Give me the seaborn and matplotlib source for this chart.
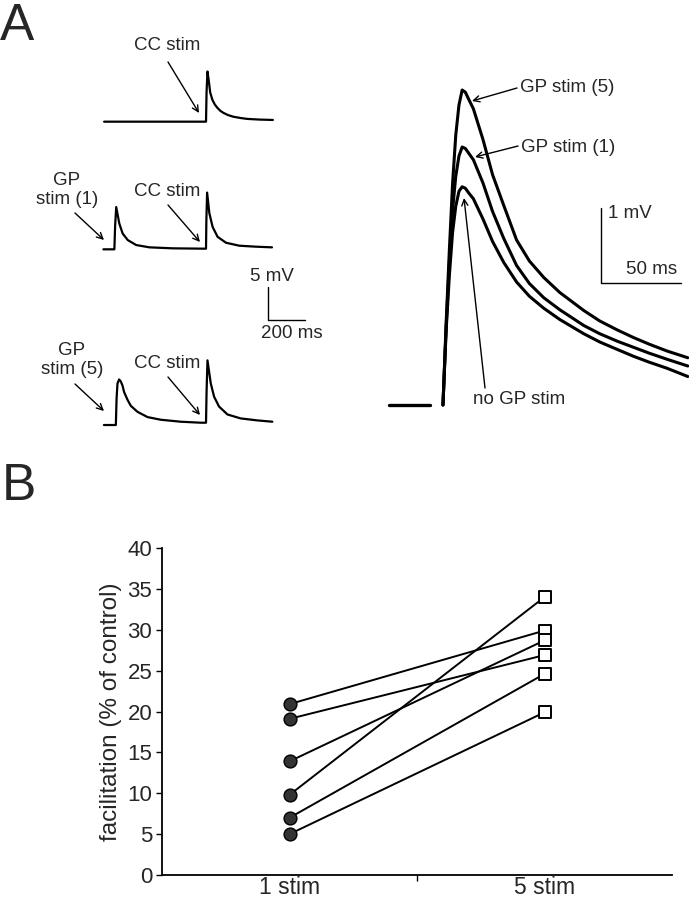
import numpy as np
import pandas as pd
import seaborn as sns
import matplotlib.pyplot as plt
from matplotlib.patches import FancyArrowPatch

# ---- panel A, left: single sweeps (ms relative to CC stim, mV above baseline)
cc_only_t = [-556, 0, 3, 8, 15, 23, 35, 48, 62, 78, 94, 120, 149, 190, 225, 290, 365]
cc_only_v = [0, 0, 4.5, 7.6, 6.2, 4.4, 3.3, 2.6, 2.1, 1.65, 1.35, 1.0, 0.75, 0.55, 0.42, 0.32, 0.26]

gp1_sweep_t = [-560, -500, -496, -490, -473, -455, -427, -381, -309, -182, -19, 0, 2, 6, 18, 36, 63,
               109, 181, 272, 360]
gp1_sweep_v = [0, 0, 3.5, 6.4, 3.9, 2.4, 1.4, 0.65, 0.3, 0.15, 0.1, 0.1, 4.5, 8.6, 5.5, 3.4, 1.9,
               1.0, 0.55, 0.4, 0.3]

gp5_sweep_t = [-557, -492, -488, -483, -474, -465, -456, -447, -428, -410, -374, -319, -247, -138, -29,
               0, 3, 8, 26, 44, 71, 117, 189, 280, 362]
gp5_sweep_v = [0, 0, 4.0, 6.3, 6.9, 6.6, 6.0, 5.0, 3.8, 2.9, 2.0, 1.2, 0.8, 0.5, 0.35,
               0.35, 5.0, 9.8, 6.3, 4.3, 2.8, 1.6, 1.0, 0.7, 0.5]

# ---- panel A, right: averaged CC EPSPs (ms from onset, mV)
epsp_t = [0, 2, 4, 6, 8, 10, 12, 14, 16, 19, 25, 31, 38, 46, 54, 63, 73, 88, 98, 109, 119, 129,
          140, 153]
epsp_none = [0, 1.0, 1.73, 2.3, 2.65, 2.85, 2.91, 2.89, 2.83, 2.75, 2.48, 2.18, 1.90, 1.64, 1.45,
             1.29, 1.14, 0.95, 0.84, 0.74, 0.65, 0.57, 0.49, 0.38]
epsp_gp1 = [0, 1.05, 1.91, 2.6, 3.05, 3.32, 3.44, 3.42, 3.36, 3.27, 2.96, 2.58, 2.22, 1.86, 1.62,
            1.43, 1.27, 1.06, 0.95, 0.85, 0.77, 0.69, 0.61, 0.52]
epsp_gp5 = [0, 1.1, 2.07, 2.95, 3.6, 4.0, 4.2, 4.17, 4.08, 3.95, 3.54, 3.07, 2.66, 2.20, 1.92,
            1.70, 1.50, 1.26, 1.12, 1.00, 0.90, 0.81, 0.72, 0.63]
pre_t = [-34, -8]
pre_v = [0, 0]

# ---- panel B: facilitation per cell
conditions = ['1 stim', '5 stim']
one_stim = [20.9, 19.1, 13.9, 9.8, 7.0, 5.0]
five_stim = [29.9, 26.9, 28.7, 34.0, 24.6, 19.9]

W, H = 689, 900


def box(x0, y0, x1, y1):
    return [x0 / W, 1 - y1 / H, (x1 - x0) / W, (y1 - y0) / H]


def fp(x, y):
    return (x / W, 1 - y / H)


def main() -> None:
    sns.set_theme(style='ticks')
    plt.rcParams['font.family'] = ['Liberation Sans', 'DejaVu Sans']

    fig = plt.figure(figsize=(W / 100, H / 100), dpi=100)
    fs = 13.5
    arrow = dict(arrowstyle='->', color='black', lw=1.0, shrinkA=0, shrinkB=0, mutation_scale=11)

    # left sweeps
    axl = fig.add_axes(box(90, 30, 330, 440))
    offsets = [48.23, 28.89, 2.27]
    sweeps = [(cc_only_t, cc_only_v), (gp1_sweep_t, gp1_sweep_v), (gp5_sweep_t, gp5_sweep_v)]
    for (t, v), off in zip(sweeps, offsets):
        sns.lineplot(x=t, y=np.array(v) + off, ax=axl, color='black', lw=1.6,
                     estimator=None, sort=False)
    axl.plot([338, 338, 538], [23.18, 18.18, 18.18], color='black', lw=1.0)
    axl.set_xlim(-633, 676.5)
    axl.set_ylim(0, 62.12)
    axl.axis('off')

    # right overlay
    axr = fig.add_axes(box(370, 60, 689, 420))
    for v in (epsp_none, epsp_gp1, epsp_gp5):
        sns.lineplot(x=epsp_t, y=v, ax=axr, color='black', lw=2.2, estimator=None, sort=False)
    sns.lineplot(x=pre_t, y=pre_v, ax=axr, color='black', lw=2.4, estimator=None, sort=False)
    axr.plot([98.75, 98.75, 148.75], [2.627, 1.627, 1.627], color='black', lw=1.0)
    axr.set_xlim(-45.6, 153.75)
    axr.set_ylim(-0.2, 4.6)
    axr.axis('off')

    # annotations, panel A
    fig.text(*fp(0, 40), 'A', fontsize=37, ha='left', va='baseline')
    fig.text(*fp(167, 45), 'CC stim', fontsize=fs, ha='center', va='center')
    fig.text(*fp(167, 192), 'CC stim', fontsize=fs, ha='center', va='center')
    fig.text(*fp(167, 363), 'CC stim', fontsize=fs, ha='center', va='center')
    fig.text(*fp(67, 190), 'GP\nstim (1)', fontsize=fs, ha='center', va='center', linespacing=1.2)
    fig.text(*fp(72, 360), 'GP\nstim (5)', fontsize=fs, ha='center', va='center', linespacing=1.2)
    fig.text(*fp(272, 277), '5 mV', fontsize=fs, ha='center', va='center')
    fig.text(*fp(292, 333), '200 ms', fontsize=fs, ha='center', va='center')
    for (x0, y0), (x1, y1) in [((168, 62), (199, 113)), ((168, 205), (200, 242)),
                               ((168, 377), (200, 415)), ((75, 213), (104, 240)),
                               ((75, 384), (104, 411))]:
        fig.add_artist(FancyArrowPatch(fp(x0, y0), fp(x1, y1), transform=fig.transFigure, **arrow))

    fig.text(*fp(567, 88), 'GP stim (5)', fontsize=fs, ha='center', va='center')
    fig.text(*fp(568, 147), 'GP stim (1)', fontsize=fs, ha='center', va='center')
    fig.text(*fp(519, 399), 'no GP stim', fontsize=fs, ha='center', va='center')
    fig.text(*fp(630, 213), '1 mV', fontsize=fs, ha='center', va='center')
    fig.text(*fp(652, 270), '50 ms', fontsize=fs, ha='center', va='center')
    for (x0, y0), (x1, y1) in [((517, 88), (472, 101)), ((518, 146), (475, 157)),
                               ((485, 388), (464, 198))]:
        fig.add_artist(FancyArrowPatch(fp(x0, y0), fp(x1, y1), transform=fig.transFigure, **arrow))

    # panel B
    fig.text(*fp(2, 500), 'B', fontsize=37, ha='left', va='baseline')
    axb = fig.add_axes(box(162, 548, 672, 875))
    n = len(one_stim)
    df = pd.DataFrame({
        'cell': list(range(n)) * 2,
        'pos': [1] * n + [2] * n,
        'fac': one_stim + five_stim,
    })
    sns.lineplot(data=df, x='pos', y='fac', units='cell', estimator=None, color='black',
                 lw=1.4, ax=axb, zorder=2)
    sns.scatterplot(data=df[df.pos == 1], x='pos', y='fac', marker='o', s=85, color='#333333',
                    edgecolor='black', linewidth=1.0, ax=axb, zorder=3)
    sns.scatterplot(data=df[df.pos == 2], x='pos', y='fac', marker='s', s=70, color='white',
                    edgecolor='black', linewidth=1.4, ax=axb, zorder=3)
    axb.set_xlim(0.5, 2.5)
    axb.set_ylim(0, 40)
    axb.set_yticks(range(0, 41, 5))
    axb.set_xticks([1, 2])
    axb.set_xticklabels(conditions)
    axb.set_xticks([1.5], minor=True)
    axb.tick_params(axis='x', which='major', length=0, labelsize=16.5, pad=1)
    axb.tick_params(axis='x', which='minor', length=4, width=1.0, color='black')
    axb.tick_params(axis='y', length=4, width=1.0, color='black', labelsize=16, pad=3)
    axb.set_xlabel('')
    axb.set_ylabel('facilitation (% of control)', fontsize=17.5, labelpad=4)
    sns.despine(ax=axb)
    for s in ('left', 'bottom'):
        axb.spines[s].set_linewidth(1.3)
        axb.spines[s].set_color('black')

    fig.savefig('out.png', dpi=100, facecolor='white')


if __name__ == '__main__':
    main()
